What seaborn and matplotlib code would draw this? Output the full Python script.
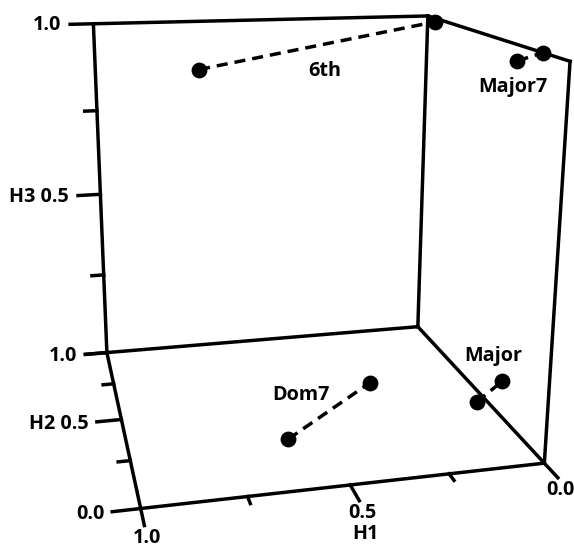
import numpy as np
import pandas as pd
import matplotlib
matplotlib.use("Agg")
import matplotlib.pyplot as plt
import seaborn as sns

# ---------------- data ----------------
chords = ["6th", "6th", "Major7", "Major7", "Major", "Major", "Dom7", "Dom7"]
h1_vals = [0.70, 0.00, 0.00, 0.00, 0.03, 0.00, 0.59, 0.28]
h2_vals = [1.00, 0.93, 0.30, 0.15, 0.39, 0.29, 0.28, 0.59]
h3_vals = [0.86, 0.99, 0.96, 1.00, 0.00, 0.10, 0.00, 0.00]
tick_values = [0.0, 0.25, 0.5, 0.75, 1.0]
labelled_ticks = {"H1": {1.0: "1.0", 0.5: "0.5", 0.0: "0.0"},
                  "H2": {1.0: "1.0", 0.5: "H2 0.5", 0.0: "0.0"},
                  "H3": {1.0: "1.0", 0.5: "H3 0.5"}}

# ---------------- camera (layout of the cube on the canvas, in pixels) ----------------
W, H = 574, 547
cube_ref3 = np.array([[1, 0, 0], [1, 1, 0], [1, 1, 1], [0, 1, 0],
                      [0, 1, 1], [0, 0, 0], [0, 0, 1]], float)
cube_ref2 = np.array([[141, 509], [107, 352], [93, 24], [417, 327],
                      [429, 16], [545, 463], [569, 61]], float)
rows = []
for (X, Y, Z), (u, v) in zip(cube_ref3, cube_ref2):
    rows.append([X, Y, Z, 1, 0, 0, 0, 0, -u * X, -u * Y, -u * Z, -u])
    rows.append([0, 0, 0, 0, X, Y, Z, 1, -v * X, -v * Y, -v * Z, -v])
_, _, Vt = np.linalg.svd(np.array(rows))
P = Vt[-1].reshape(3, 4)


def proj(h1, h2, h3):
    pts = np.column_stack([np.atleast_1d(h1), np.atleast_1d(h2),
                           np.atleast_1d(h3), np.ones(np.size(h1))])
    hh = pts @ P.T
    return hh[:, 0] / hh[:, 2], hh[:, 1] / hh[:, 2]


# ---------------- figure ----------------
sns.set_style("white")
plt.rcParams["font.family"] = ["Open Sans", "DejaVu Sans"]
fig = plt.figure(figsize=(W / 100, H / 100), dpi=100)
ax = fig.add_axes([0, 0, 1, 1])
ax.set_xlim(0, W)
ax.set_ylim(H, 0)
ax.set_axis_off()

LW = 2.5
FS = 14.2


def seg(a, b, **kw):
    x, y = proj(*np.array([a, b], float).T)
    ax.plot(x, y, color="black", lw=LW, solid_capstyle="projecting", **kw)


# cube edges: floor, three verticals, two top edges
edges = [((1, 0, 0), (0, 0, 0)), ((0, 0, 0), (0, 1, 0)), ((0, 1, 0), (1, 1, 0)),
         ((1, 1, 0), (1, 0, 0)), ((1, 1, 0), (1, 1, 1)), ((0, 1, 0), (0, 1, 1)),
         ((0, 0, 0), (0, 0, 1)), ((1, 1, 1), (0, 1, 1)), ((0, 1, 1), (0, 0, 1))]
for a, b in edges:
    seg(a, b)

# ticks
txt = dict(fontsize=FS, fontweight="bold", color="black")
for t in tick_values:
    major = t in (0.0, 0.5, 1.0)
    # H3 ticks (left back vertical), pointing towards larger H1
    L = 0.065 if major else 0.035
    seg((1, 1, t), (1 + L, 1, t))
    if t in labelled_ticks["H3"]:
        x, y = proj(1 + L, 1, t)
        ax.text(x[0] - 9, y[0] + 1, labelled_ticks["H3"][t], ha="right", va="center", **txt)
    # H2 ticks (left floor edge)
    L = 0.065 if major else 0.03
    seg((1, t, 0), (1 + L, t, 0))
    if t in labelled_ticks["H2"]:
        x, y = proj(1 + L, t, 0)
        ax.text(x[0] - 8, y[0] + 2, labelled_ticks["H2"][t], ha="right", va="center", **txt)
    # H1 ticks (front floor edge), pointing towards negative H2
    L = 0.08 if major else 0.035
    seg((t, 0, 0), (t, -L, 0))
    if t in labelled_ticks["H1"]:
        x, y = proj(t, -L, 0)
        ax.text(x[0] + 3, y[0] + 12, labelled_ticks["H1"][t], ha="center", va="center", **txt)
        if t == 0.5:
            ax.text(x[0] + 6, y[0] + 33, "H1", ha="center", va="center", **txt)

# data
df = pd.DataFrame({"chord": chords, "H1": h1_vals, "H2": h2_vals, "H3": h3_vals})
df["px"], df["py"] = proj(df["H1"].values, df["H2"].values, df["H3"].values)

label_offsets = {"6th": (8, 25), "Major7": (-17, 30), "Major": (4, -36), "Dom7": (-28, -16)}
for name, g in df.groupby("chord", sort=False):
    ax.plot(g["px"], g["py"], color="black", lw=LW, linestyle=(0, (3.2, 2.0)), zorder=3)
    mx, my = g["px"].mean(), g["py"].mean()
    dx, dy = label_offsets[name]
    ax.text(mx + dx, my + dy, name, ha="center", va="center", zorder=5, **txt)

sns.scatterplot(data=df, x="px", y="py", color="black", s=130, linewidth=0,
                ax=ax, zorder=4, legend=False)
ax.set_xlim(0, W)
ax.set_ylim(H, 0)
ax.set_axis_off()

fig.savefig("out.png", dpi=100)
